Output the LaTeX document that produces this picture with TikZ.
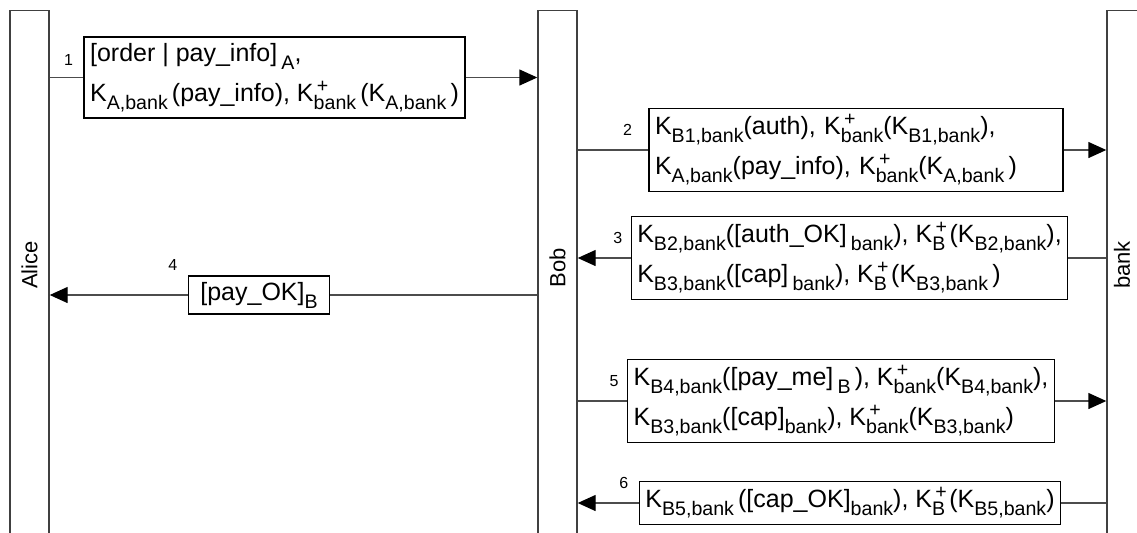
\documentclass[tikz,border=0pt]{standalone}
\usepackage{fontspec}
\setmainfont{Liberation Sans}
\usetikzlibrary{arrows.meta,positioning}

% subscript, key with subscript, and key with + over a subscript
\newcommand{\tsub}[1]{\raisebox{-0.32em}{\fontsize{9.8}{10}\selectfont #1}}
\newcommand{\ksub}[1]{K\tsub{#1}}
\newcommand{\kpub}[1]{K\rlap{\raisebox{0.36em}{\fontsize{9.8}{10}\selectfont\,+}}\tsub{#1}}

\begin{document}
\begin{tikzpicture}[
  x=0.5pt, y=-0.5pt,
  >={Triangle[length=9pt,width=8pt,color=black]},
  lane/.style={draw=black!75, line width=0.7pt, minimum width=19.5pt, minimum height=300pt, anchor=north, inner sep=0pt},
  who/.style={rotate=90, font=\fontsize{11}{13}\selectfont},
  msg/.style={draw, fill=white, align=left, inner sep=3pt, line width=0.7pt, font=\fontsize{12.5}{20}\selectfont},
  wire/.style={draw=black!70, line width=0.7pt},
  num/.style={font=\fontsize{8}{9}\selectfont, inner sep=0pt},
]
\useasboundingbox (0,0) rectangle (1137,532);

% === LANES ===
\node[lane] (alice) at (29.5,10) {};
\node[lane] (bob) at (557.5,10) {};
\node[lane] (bank) at (1126.5,10) {};
\node[who] (alicetxt) at (29.5,265) {Alice};
\node[who] (bobtxt) at (557.5,268) {Bob};
\node[who] (banktxt) at (1122,265) {bank};

% === MESSAGES ===
\node[msg] (m1) at (274.5,77.5) { [order | pay\_info]\,\tsub{A},\\\ksub{A,bank}\,(pay\_info), \kpub{bank}\,(\ksub{A,bank}\,)};
\node[msg, text width=201pt] (m2) at (856,150) {\ksub{B1,bank}(auth), \kpub{bank}(\ksub{B1,bank}),\\\ksub{A,bank}(pay\_info), \kpub{bank}(\ksub{A,bank}\,)};
\node[msg] (m3) at (849.5,258) {\ksub{B2,bank}([auth\_OK]\,\tsub{bank}), \kpub{B}\,(\ksub{B2,bank}),\\\ksub{B3,bank}([cap]\,\tsub{bank}), \kpub{B}\,(\ksub{B3,bank}\,)};
\node[msg, inner xsep=6pt] (m4) at (259,295) {[pay\_OK]\tsub{B}};
\node[msg] (m5) at (841,401) {\ksub{B4,bank}([pay\_me]\,\tsub{B}\,), \kpub{bank}(\ksub{B4,bank}),\\\ksub{B3,bank}([cap]\tsub{bank}), \kpub{bank}(\ksub{B3,bank})};
\node[msg] (m6) at (850,503) {\ksub{B5,bank}\,([cap\_OK]\tsub{bank}), \kpub{B}\,(\ksub{B5,bank})};

% === NUMBERS ===
\node[num, above left=6pt and 5pt of m1.west] (n1) {1};
\node[num, above left=7pt and 8pt of m2.west] (n2) {2};
\node[num, above left=7pt and 4pt of m3.west] (n3) {3};
\node[num, above left=12pt and 5pt of m4.west] (n4) {4};
\node[num, above left=7pt and 4pt of m5.west] (n5) {5};
\node[num, above left=7pt and 5pt of m6.west] (n6) {6};

% === CONNECTORS ===
\draw[wire] (alice.east |- m1.west) -- (m1.west);
\draw[wire,->] (m1.east) -- (bob.west |- m1.east);
\draw[wire] (bob.east |- m2.west) -- (m2.west);
\draw[wire,->] (m2.east) -- (bank.west |- m2.east);
\draw[wire] (bank.west |- m3.east) -- (m3.east);
\draw[wire,->] (m3.west) -- (bob.east |- m3.west);
\draw[wire] (bob.west |- m4.east) -- (m4.east);
\draw[wire,->] (m4.west) -- (alice.east |- m4.west);
\draw[wire] (bob.east |- m5.west) -- (m5.west);
\draw[wire,->] (m5.east) -- (bank.west |- m5.east);
\draw[wire] (bank.west |- m6.east) -- (m6.east);
\draw[wire,->] (m6.west) -- (bob.east |- m6.west);

\end{tikzpicture}
\end{document}
